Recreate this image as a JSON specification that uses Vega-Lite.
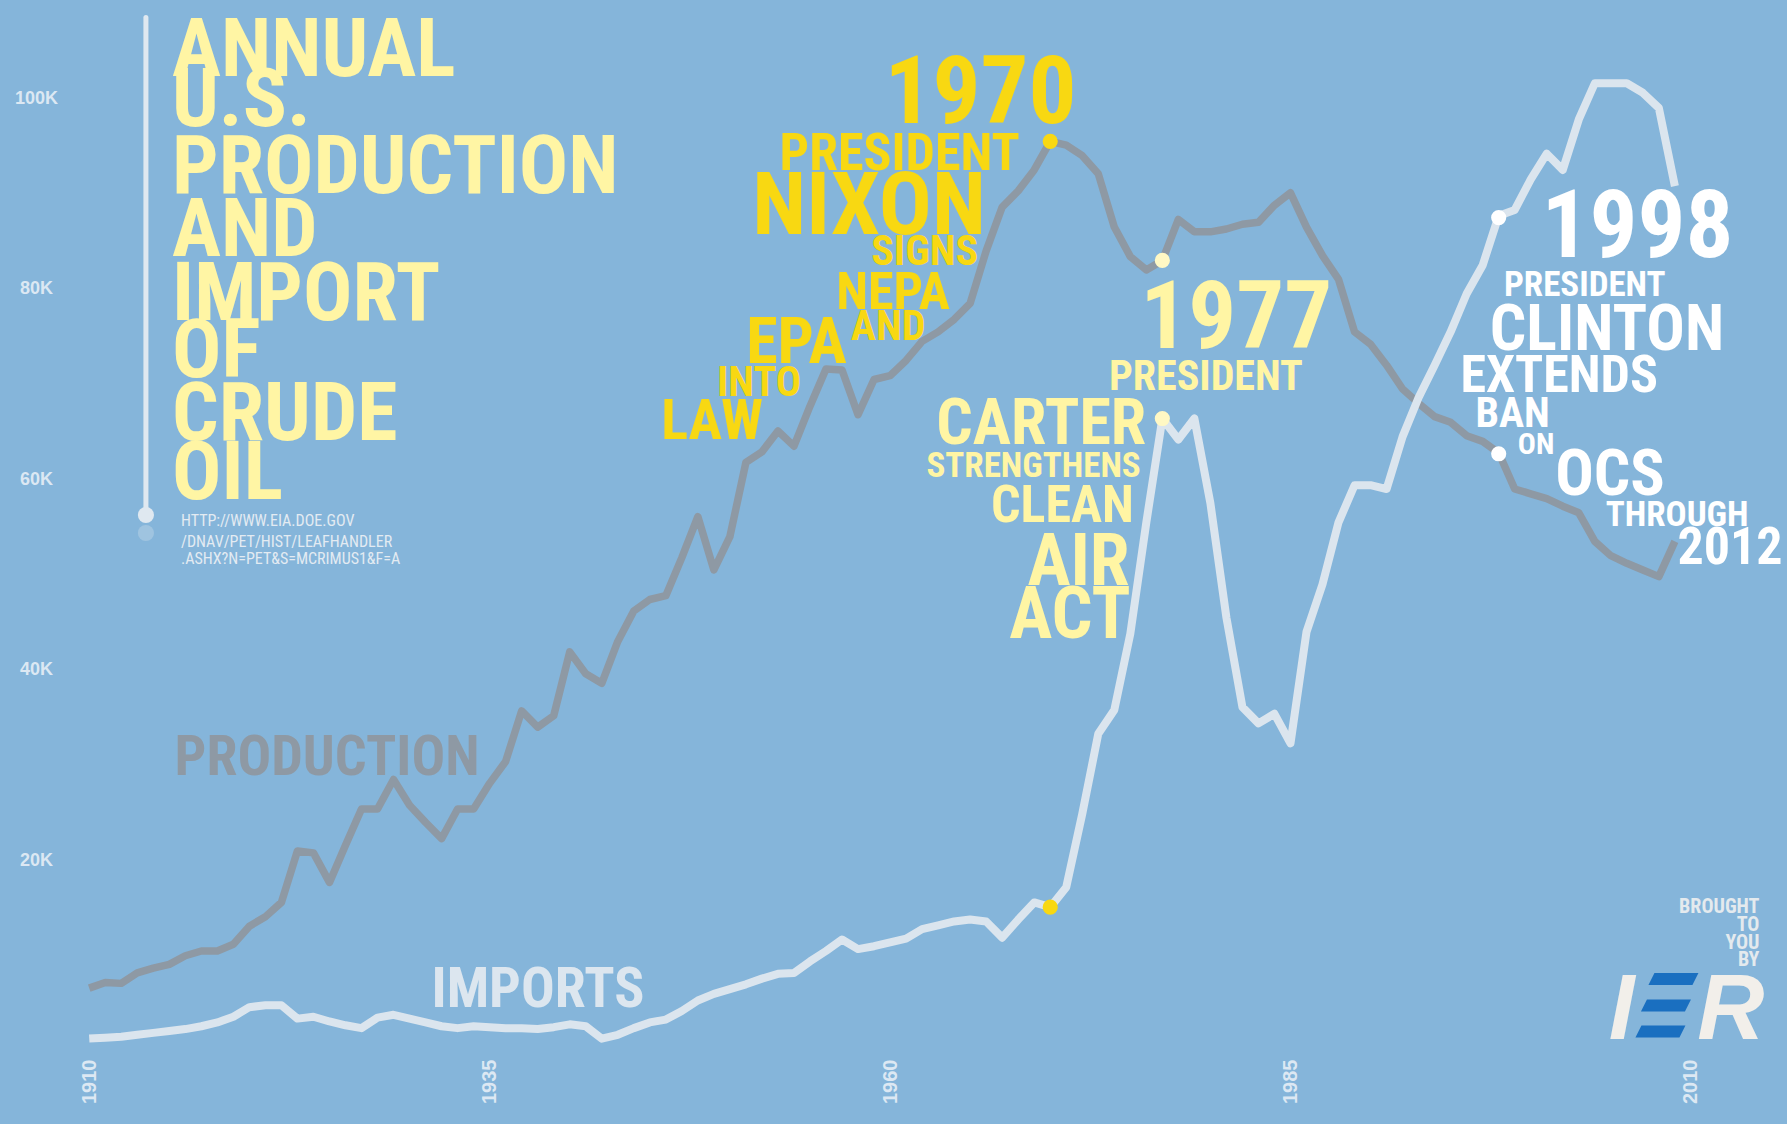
{
  "$schema": "https://vega.github.io/schema/vega-lite/v6.json",
  "width": 1717,
  "height": 1051,
  "autosize": {"type": "none"},
  "padding": {"left": 70, "top": 0, "right": 0, "bottom": 73},
  "background": "#85b5da",
  "config": {"view": {"stroke": null}},
  "datasets": {
    "series": [
      {"year":1910,"series":"Production","value":6600},{"year":1911,"series":"Production","value":7200},{"year":1912,"series":"Production","value":7100},{"year":1913,"series":"Production","value":8200},{"year":1914,"series":"Production","value":8700},{"year":1915,"series":"Production","value":9100},{"year":1916,"series":"Production","value":10000},{"year":1917,"series":"Production","value":10500},{"year":1918,"series":"Production","value":10500},{"year":1919,"series":"Production","value":11200},
      {"year":1920,"series":"Production","value":13100},{"year":1921,"series":"Production","value":14100},{"year":1922,"series":"Production","value":15600},{"year":1923,"series":"Production","value":21000},{"year":1924,"series":"Production","value":20800},{"year":1925,"series":"Production","value":17700},{"year":1926,"series":"Production","value":21600},{"year":1927,"series":"Production","value":25400},{"year":1928,"series":"Production","value":25400},{"year":1929,"series":"Production","value":28500},
      {"year":1930,"series":"Production","value":25800},{"year":1931,"series":"Production","value":24000},{"year":1932,"series":"Production","value":22300},{"year":1933,"series":"Production","value":25400},{"year":1934,"series":"Production","value":25400},{"year":1935,"series":"Production","value":28100},{"year":1936,"series":"Production","value":30400},{"year":1937,"series":"Production","value":35700},{"year":1938,"series":"Production","value":34000},{"year":1939,"series":"Production","value":35200},
      {"year":1940,"series":"Production","value":41900},{"year":1941,"series":"Production","value":39600},{"year":1942,"series":"Production","value":38600},{"year":1943,"series":"Production","value":43000},{"year":1944,"series":"Production","value":46200},{"year":1945,"series":"Production","value":47400},{"year":1946,"series":"Production","value":47800},{"year":1947,"series":"Production","value":51800},{"year":1948,"series":"Production","value":56100},{"year":1949,"series":"Production","value":50500},
      {"year":1950,"series":"Production","value":54000},{"year":1951,"series":"Production","value":61800},{"year":1952,"series":"Production","value":62900},{"year":1953,"series":"Production","value":65100},{"year":1954,"series":"Production","value":63500},{"year":1955,"series":"Production","value":67700},{"year":1956,"series":"Production","value":71600},{"year":1957,"series":"Production","value":71500},{"year":1958,"series":"Production","value":66800},{"year":1959,"series":"Production","value":70500},
      {"year":1960,"series":"Production","value":70900},{"year":1961,"series":"Production","value":72500},{"year":1962,"series":"Production","value":74500},{"year":1963,"series":"Production","value":75500},{"year":1964,"series":"Production","value":76800},{"year":1965,"series":"Production","value":78500},{"year":1966,"series":"Production","value":84000},{"year":1967,"series":"Production","value":88600},{"year":1968,"series":"Production","value":90300},{"year":1969,"series":"Production","value":92500},
      {"year":1970,"series":"Production","value":95500},{"year":1971,"series":"Production","value":95100},{"year":1972,"series":"Production","value":94000},{"year":1973,"series":"Production","value":92100},{"year":1974,"series":"Production","value":86500},{"year":1975,"series":"Production","value":83400},{"year":1976,"series":"Production","value":82000},{"year":1977,"series":"Production","value":83000},{"year":1978,"series":"Production","value":87300},{"year":1979,"series":"Production","value":86000},
      {"year":1980,"series":"Production","value":86000},{"year":1981,"series":"Production","value":86300},{"year":1982,"series":"Production","value":86800},{"year":1983,"series":"Production","value":87000},{"year":1984,"series":"Production","value":88800},{"year":1985,"series":"Production","value":90100},{"year":1986,"series":"Production","value":86500},{"year":1987,"series":"Production","value":83500},{"year":1988,"series":"Production","value":81000},{"year":1989,"series":"Production","value":75500},
      {"year":1990,"series":"Production","value":74200},{"year":1991,"series":"Production","value":72000},{"year":1992,"series":"Production","value":69500},{"year":1993,"series":"Production","value":68000},{"year":1994,"series":"Production","value":66600},{"year":1995,"series":"Production","value":66000},{"year":1996,"series":"Production","value":64600},{"year":1997,"series":"Production","value":64000},{"year":1998,"series":"Production","value":62800},{"year":1999,"series":"Production","value":59000},
      {"year":2000,"series":"Production","value":58500},{"year":2001,"series":"Production","value":58000},{"year":2002,"series":"Production","value":57200},{"year":2003,"series":"Production","value":56500},{"year":2004,"series":"Production","value":53500},{"year":2005,"series":"Production","value":52000},{"year":2006,"series":"Production","value":51200},{"year":2007,"series":"Production","value":50500},{"year":2008,"series":"Production","value":49800},{"year":2009,"series":"Production","value":53500},
      {"year":1910,"series":"Imports","value":1300},{"year":1911,"series":"Imports","value":1400},{"year":1912,"series":"Imports","value":1500},{"year":1913,"series":"Imports","value":1700},{"year":1914,"series":"Imports","value":1900},{"year":1915,"series":"Imports","value":2100},{"year":1916,"series":"Imports","value":2300},{"year":1917,"series":"Imports","value":2600},{"year":1918,"series":"Imports","value":3000},{"year":1919,"series":"Imports","value":3600},
      {"year":1920,"series":"Imports","value":4600},{"year":1921,"series":"Imports","value":4800},{"year":1922,"series":"Imports","value":4800},{"year":1923,"series":"Imports","value":3400},{"year":1924,"series":"Imports","value":3600},{"year":1925,"series":"Imports","value":3100},{"year":1926,"series":"Imports","value":2700},{"year":1927,"series":"Imports","value":2400},{"year":1928,"series":"Imports","value":3500},{"year":1929,"series":"Imports","value":3800},
      {"year":1930,"series":"Imports","value":3400},{"year":1931,"series":"Imports","value":3000},{"year":1932,"series":"Imports","value":2600},{"year":1933,"series":"Imports","value":2400},{"year":1934,"series":"Imports","value":2600},{"year":1935,"series":"Imports","value":2500},{"year":1936,"series":"Imports","value":2400},{"year":1937,"series":"Imports","value":2400},{"year":1938,"series":"Imports","value":2300},{"year":1939,"series":"Imports","value":2500},
      {"year":1940,"series":"Imports","value":2800},{"year":1941,"series":"Imports","value":2600},{"year":1942,"series":"Imports","value":1300},{"year":1943,"series":"Imports","value":1700},{"year":1944,"series":"Imports","value":2400},{"year":1945,"series":"Imports","value":3000},{"year":1946,"series":"Imports","value":3300},{"year":1947,"series":"Imports","value":4200},{"year":1948,"series":"Imports","value":5300},{"year":1949,"series":"Imports","value":6000},
      {"year":1950,"series":"Imports","value":6500},{"year":1951,"series":"Imports","value":7000},{"year":1952,"series":"Imports","value":7600},{"year":1953,"series":"Imports","value":8100},{"year":1954,"series":"Imports","value":8200},{"year":1955,"series":"Imports","value":9400},{"year":1956,"series":"Imports","value":10500},{"year":1957,"series":"Imports","value":11700},{"year":1958,"series":"Imports","value":10700},{"year":1959,"series":"Imports","value":11000},
      {"year":1960,"series":"Imports","value":11400},{"year":1961,"series":"Imports","value":11800},{"year":1962,"series":"Imports","value":12800},{"year":1963,"series":"Imports","value":13200},{"year":1964,"series":"Imports","value":13600},{"year":1965,"series":"Imports","value":13800},{"year":1966,"series":"Imports","value":13600},{"year":1967,"series":"Imports","value":11900},{"year":1968,"series":"Imports","value":13800},{"year":1969,"series":"Imports","value":15600},
      {"year":1970,"series":"Imports","value":15100},{"year":1971,"series":"Imports","value":17200},{"year":1972,"series":"Imports","value":24900},{"year":1973,"series":"Imports","value":33300},{"year":1974,"series":"Imports","value":35800},{"year":1975,"series":"Imports","value":43800},{"year":1976,"series":"Imports","value":55500},{"year":1977,"series":"Imports","value":66400},{"year":1978,"series":"Imports","value":64200},{"year":1979,"series":"Imports","value":66400},
      {"year":1980,"series":"Imports","value":57500},{"year":1981,"series":"Imports","value":45500},{"year":1982,"series":"Imports","value":36100},{"year":1983,"series":"Imports","value":34400},{"year":1984,"series":"Imports","value":35400},{"year":1985,"series":"Imports","value":32300},{"year":1986,"series":"Imports","value":44000},{"year":1987,"series":"Imports","value":49000},{"year":1988,"series":"Imports","value":55500},{"year":1989,"series":"Imports","value":59400},
      {"year":1990,"series":"Imports","value":59400},{"year":1991,"series":"Imports","value":59000},{"year":1992,"series":"Imports","value":64500},{"year":1993,"series":"Imports","value":68600},{"year":1994,"series":"Imports","value":72000},{"year":1995,"series":"Imports","value":75500},{"year":1996,"series":"Imports","value":79500},{"year":1997,"series":"Imports","value":82500},{"year":1998,"series":"Imports","value":87700},{"year":1999,"series":"Imports","value":88300},
      {"year":2000,"series":"Imports","value":91500},{"year":2001,"series":"Imports","value":94200},{"year":2002,"series":"Imports","value":92500},{"year":2003,"series":"Imports","value":97800},{"year":2004,"series":"Imports","value":101600},{"year":2005,"series":"Imports","value":101600},{"year":2006,"series":"Imports","value":101600},{"year":2007,"series":"Imports","value":100600},{"year":2008,"series":"Imports","value":99000},{"year":2009,"series":"Imports","value":90800}
    ],
    "event_dots": [
      {"year":1970,"value":95500,"group":"1970"},{"year":1970,"value":15100,"group":"1970"},
      {"year":1977,"value":83000,"group":"1977 dot"},{"year":1977,"value":66400,"group":"1977 dot"},
      {"year":1998,"value":87500,"group":"1998"},{"year":1998,"value":62700,"group":"1998"}
    ],
    "marker": [{"year":1913.54,"value":108500,"value2":56270}],
    "marker_end": [{"year":1913.54,"value":56270}],
    "marker_shadow": [{"year":1913.54,"value":54380}],
    "heading": [
      {"text":"ANNUAL","year":1915.17,"value":102360,"group":"heading"},
      {"text":"U.S.","year":1915.17,"value":97110,"group":"heading"},
      {"text":"PRODUCTION","year":1915.17,"value":90080,"group":"heading"},
      {"text":"AND","year":1915.17,"value":83460,"group":"heading"},
      {"text":"IMPORT","year":1915.17,"value":76750,"group":"heading"},
      {"text":"OF","year":1915.17,"value":70760,"group":"heading"},
      {"text":"CRUDE","year":1915.17,"value":64150,"group":"heading"},
      {"text":"OIL","year":1915.17,"value":57950,"group":"heading"}
    ],
    "source": [
      {"text":"HTTP://WWW.EIA.DOE.GOV","year":1915.73,"value":55120,"group":"source"},
      {"text":"/DNAV/PET/HIST/LEAFHANDLER","year":1915.73,"value":52910,"group":"source"},
      {"text":".ASHX?N=PET&S=MCRIMUS1&F=A","year":1915.73,"value":51080,"group":"source"}
    ],
    "notes_year": [
      {"text":"1970","year":1965.65,"value":97430,"group":"1970"},
      {"text":"1977","year":1981.62,"value":73770,"group":"1977"},
      {"text":"1998","year":2006.66,"value":83360,"group":"1998"}
    ],
    "notes_name": [
      {"text":"NIXON","year":1958.69,"value":85750,"group":"1970"}
    ],
    "notes_xxl": [
      {"text":"AIR","year":1971.77,"value":48970,"group":"1977"},
      {"text":"ACT","year":1971.23,"value":43310,"group":"1977"}
    ],
    "notes_xl": [
      {"text":"CLINTON","year":2004.76,"value":73560,"group":"1998"},
      {"text":"CARTER","year":1969.44,"value":63770,"group":"1977"},
      {"text":"OCS","year":2004.95,"value":58330,"group":"1998"},
      {"text":"EPA","year":1954.15,"value":72250,"group":"1970"}
    ],
    "notes_l": [
      {"text":"PRODUCTION","year":1924.85,"value":28980,"group":"production"},
      {"text":"IMPORTS","year":1938.02,"value":4570,"group":"imports"},
      {"text":"LAW","year":1948.89,"value":64200,"group":"1970"}
    ],
    "notes_m": [
      {"text":"PRESIDENT","year":1960.6,"value":92490,"group":"1970"},
      {"text":"NEPA","year":1960.18,"value":77910,"group":"1970"},
      {"text":"CLEAN","year":1970.76,"value":55500,"group":"1977"},
      {"text":"EXTENDS","year":2001.78,"value":69210,"group":"1998"},
      {"text":"2012","year":2012.44,"value":51150,"group":"1998"}
    ],
    "notes_s": [
      {"text":"SIGNS","year":1962.16,"value":82490,"group":"1970"},
      {"text":"AND","year":1959.88,"value":74650,"group":"1970"},
      {"text":"INTO","year":1951.82,"value":68770,"group":"1970"},
      {"text":"PRESIDENT","year":1979.72,"value":69430,"group":"1977"},
      {"text":"BAN","year":1998.87,"value":65510,"group":"1998"}
    ],
    "notes_xs": [
      {"text":"STRENGTHENS","year":1968.96,"value":60280,"group":"1977"},
      {"text":"PRESIDENT","year":2003.37,"value":79220,"group":"1998"},
      {"text":"THROUGH","year":2009.14,"value":55070,"group":"1998"}
    ],
    "notes_xxs": [
      {"text":"ON","year":2000.33,"value":62680,"group":"1998"}
    ],
    "credit": [
      {"text":"BROUGHT","year":2014.28,"value":14540,"group":"credit"},
      {"text":"TO","year":2014.28,"value":12600,"group":"credit"},
      {"text":"YOU","year":2014.28,"value":10680,"group":"credit"},
      {"text":"BY","year":2014.28,"value":8920,"group":"credit"}
    ],
    "logo": [
      {"text":"I","year":2005.68,"value":1210,"group":"logo"},
      {"text":"R","year":2012.5,"value":1210,"group":"logo"}
    ],
    "logo_bars": [
      {"year":2008.91,"value":7560},
      {"year":2008.44,"value":4780},
      {"year":2008.10,"value":2050}
    ]
  },
  "encoding": {
    "x": {
      "field": "year", "type": "quantitative",
      "scale": {"domain": [1908.8, 2016.0], "nice": false, "zero": false},
      "axis": {"values": [1910, 1935, 1960, 1985, 2010], "format": "d", "labelAngle": 270, "title": null, "domain": false, "ticks": false, "tickSize": 0, "grid": false, "labelFont": "Liberation Sans", "labelFontWeight": "bold", "labelFontSize": 20, "labelColor": "#dce8f3", "labelPadding": 8, "labelFlush": false, "labelOverlap": false}
    },
    "y": {
      "field": "value", "type": "quantitative",
      "scale": {"domain": [0, 110340], "nice": false, "zero": false},
      "axis": {"values": [20000, 40000, 60000, 80000, 100000], "labelExpr": "datum.value / 1000 + 'K'", "title": null, "domain": false, "ticks": false, "tickSize": 0, "grid": false, "labelAlign": "center", "labelPadding": 34, "labelFont": "Liberation Sans", "labelFontWeight": "bold", "labelFontSize": 18, "labelColor": "#dce8f3"}
    }
  },
  "layer": [
    {"data": {"name": "marker"}, "mark": {"type": "rule", "color": "#dfe8f0", "strokeWidth": 5, "strokeCap": "round"}, "encoding": {"y2": {"field": "value2"}}},
    {"data": {"name": "marker_shadow"}, "mark": {"type": "point", "filled": true, "size": 260, "color": "#dfe8f0", "opacity": 0.3}, "encoding": {}},
    {"data": {"name": "marker_end"}, "mark": {"type": "point", "filled": true, "size": 260, "color": "#dfe8f0", "opacity": 1}, "encoding": {}},
    {"data": {"name": "series"}, "transform": [{"filter": "datum.series === 'Production'"}], "mark": {"type": "line", "color": "#8e99a4", "strokeWidth": 7.5, "strokeJoin": "round", "strokeCap": "butt"}, "encoding": {}},
    {"data": {"name": "series"}, "transform": [{"filter": "datum.series === 'Imports'"}], "mark": {"type": "line", "color": "#dbe5ee", "strokeWidth": 8, "strokeJoin": "round", "strokeCap": "butt"}, "encoding": {}},
    {
      "encoding": {
        "text": {"field": "text"},
        "color": {"field": "group", "type": "nominal", "legend": null,
          "scale": {"domain": ["1970", "1977", "1977 dot", "1998", "heading", "production", "imports", "source", "credit", "logo"],
                    "range": ["#f8d812", "#fff5a4", "#fff8c4", "#ffffff", "#fff5a4", "#8e99a4", "#dce6ef", "#e3ebf2", "#e4eaee", "#f2efea"]}}
      },
      "layer": [
        {"data": {"name": "heading"}, "mark": {"type": "text", "font": "Roboto Condensed", "fontWeight": "bold", "fontSize": 82, "align": "left", "baseline": "alphabetic"}},
        {"data": {"name": "source"}, "mark": {"type": "text", "font": "Roboto Condensed", "fontWeight": "normal", "fontSize": 16, "align": "left", "baseline": "alphabetic"}},
        {"data": {"name": "notes_year"}, "mark": {"type": "text", "font": "Roboto Condensed", "fontWeight": "bold", "fontSize": 95, "align": "center", "baseline": "alphabetic"}},
        {"data": {"name": "notes_name"}, "mark": {"type": "text", "font": "Roboto Condensed", "fontWeight": "bold", "fontSize": 88, "align": "center", "baseline": "alphabetic"}},
        {"data": {"name": "notes_xxl"}, "mark": {"type": "text", "font": "Roboto Condensed", "fontWeight": "bold", "fontSize": 72, "align": "center", "baseline": "alphabetic"}},
        {"data": {"name": "notes_xl"}, "mark": {"type": "text", "font": "Roboto Condensed", "fontWeight": "bold", "fontSize": 64, "align": "center", "baseline": "alphabetic"}},
        {"data": {"name": "notes_l"}, "mark": {"type": "text", "font": "Roboto Condensed", "fontWeight": "bold", "fontSize": 56, "align": "center", "baseline": "alphabetic"}},
        {"data": {"name": "notes_m"}, "mark": {"type": "text", "font": "Roboto Condensed", "fontWeight": "bold", "fontSize": 52, "align": "center", "baseline": "alphabetic"}},
        {"data": {"name": "notes_s"}, "mark": {"type": "text", "font": "Roboto Condensed", "fontWeight": "bold", "fontSize": 42, "align": "center", "baseline": "alphabetic"}},
        {"data": {"name": "notes_xs"}, "mark": {"type": "text", "font": "Roboto Condensed", "fontWeight": "bold", "fontSize": 35, "align": "center", "baseline": "alphabetic"}},
        {"data": {"name": "notes_xxs"}, "mark": {"type": "text", "font": "Roboto Condensed", "fontWeight": "bold", "fontSize": 30, "align": "center", "baseline": "alphabetic"}},
        {"data": {"name": "credit"}, "mark": {"type": "text", "font": "Roboto Condensed", "fontWeight": "bold", "fontSize": 20, "align": "right", "baseline": "alphabetic"}},
        {"data": {"name": "logo"}, "mark": {"type": "text", "font": "Liberation Sans", "fontWeight": "bold", "fontStyle": "italic", "fontSize": 93, "align": "center", "baseline": "alphabetic"}}
      ]
    },
    {"data": {"name": "logo_bars"}, "mark": {"type": "point", "filled": true, "size": 2500, "color": "#1a6fc0", "opacity": 1, "shape": "M-0.76,-0.24 L1,-0.24 L0.76,0.24 L-1,0.24 Z"}, "encoding": {}},
    {
      "data": {"name": "event_dots"},
      "mark": {"type": "point", "filled": true, "size": 230, "opacity": 1},
      "encoding": {
        "color": {"field": "group", "type": "nominal", "legend": null,
          "scale": {"domain": ["1970", "1977", "1977 dot", "1998", "heading", "production", "imports", "source", "credit", "logo"],
                    "range": ["#f8d812", "#fff5a4", "#fff8c4", "#ffffff", "#fff5a4", "#8e99a4", "#dce6ef", "#e3ebf2", "#e4eaee", "#f2efea"]}}
      }
    }
  ]
}
